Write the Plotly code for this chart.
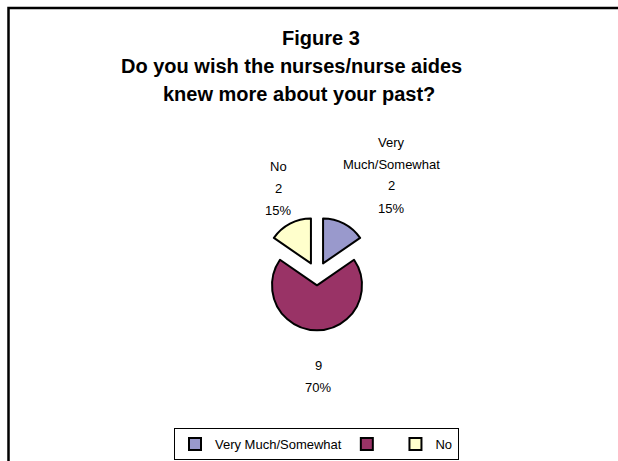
import textwrap
import plotly.graph_objects as go

# ---- data ----
categories = ["Very Much/Somewhat", " ", "No"]
counts = [2, 9, 2]
pct_labels = ["15%", "70%", "15%"]
title_lines = ["Figure 3", "Do you wish the nurses/nurse aides", "knew more about your past?"]

# ---- styles / layout (pixels from top-left of a 618x461 page) ----
colors = ["#9999CC", "#993366", "#FFFFCC"]
pulls = [0.29, 0.23, 0.29]
W, H = 618, 461
pie_center = (317, 275)
pie_radius = 45
title_pos = [(321, 38), (291, 66), (299, 94)]
label_anchor = [(391, 208), (318, 387), (278, 210)]  # y of last line of each label block
line_gap = 22
FONT = "Arial, Liberation Sans, sans-serif"


def px(x):
    return x / W


def py(y):
    return 1 - y / H


half = pie_radius * (1 + max(pulls))
domain_x = [px(pie_center[0] - half), px(pie_center[0] + half)]
domain_y = [py(pie_center[1] + half), py(pie_center[1] - half)]

fig = go.Figure(
    go.Pie(
        labels=categories,
        values=counts,
        sort=False,
        direction="clockwise",
        rotation=0,
        pull=pulls,
        textinfo="none",
        hoverinfo="label+value+percent",
        marker=dict(colors=colors, line=dict(color="black", width=2)),
        domain=dict(x=domain_x, y=domain_y),
    )
)

annotations = []
for (x, y), line in zip(title_pos, title_lines):
    annotations.append(dict(
        x=px(x), y=py(y), xref="paper", yref="paper", text=f"<b>{line}</b>",
        showarrow=False, xanchor="center", yanchor="middle",
        font=dict(family=FONT, size=20, color="black"),
    ))

for i, cat in enumerate(categories):
    lines = textwrap.wrap(cat.strip(), 13) + [str(counts[i]), pct_labels[i]]
    ax, ay = label_anchor[i]
    for j, line in enumerate(reversed(lines)):
        annotations.append(dict(
            x=px(ax), y=py(ay - j * line_gap), xref="paper", yref="paper", text=line,
            showarrow=False, xanchor="center", yanchor="middle",
            font=dict(family=FONT, size=13, color="black"),
        ))

fig.update_layout(
    width=W, height=H,
    margin=dict(l=0, r=0, t=0, b=0),
    paper_bgcolor="white",
    plot_bgcolor="white",
    annotations=annotations,
    showlegend=True,
    legend=dict(
        orientation="h", x=px(316.5), xanchor="center", y=py(428), yanchor="top",
        bordercolor="black", borderwidth=1, bgcolor="white",
        font=dict(family=FONT, size=13, color="black"),
        itemwidth=30,
    ),
    shapes=[dict(
        type="rect", xref="paper", yref="paper",
        x0=px(8.5), y0=-0.2, x1=1.2, y1=py(8),
        line=dict(color="black", width=2.5), fillcolor="rgba(0,0,0,0)",
    )],
)

fig.write_html("out.html")
